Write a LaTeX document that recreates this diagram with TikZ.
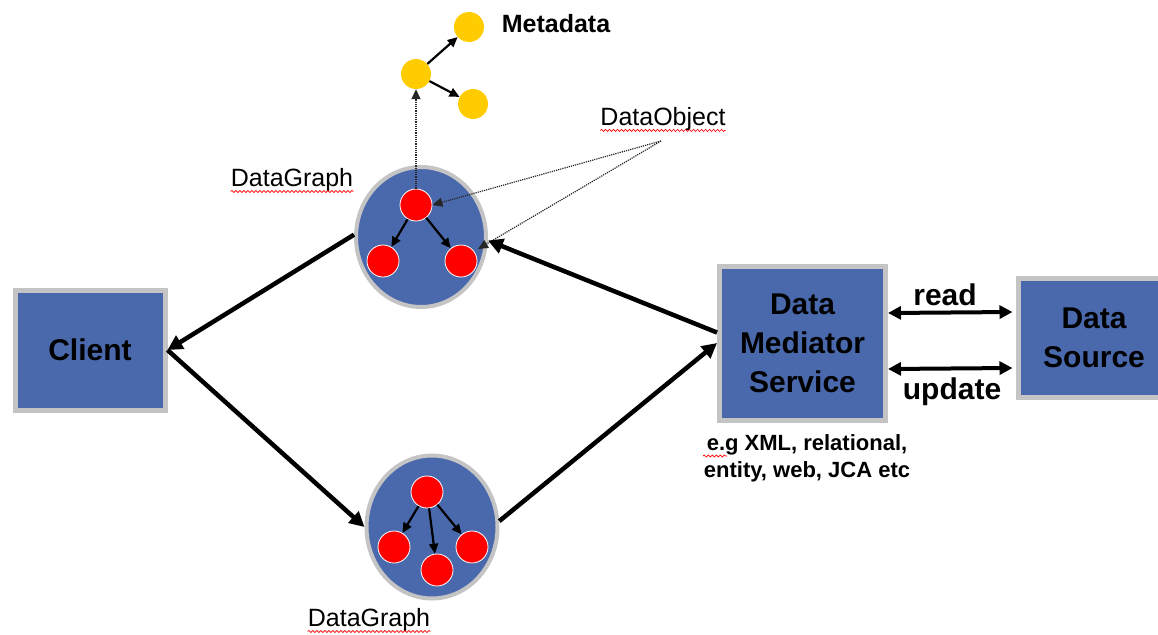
\documentclass[tikz,border=0pt]{standalone}
\usepackage{fontspec}
\setmainfont{Liberation Sans}
\usetikzlibrary{shapes.geometric,arrows.meta,decorations.pathmorphing,calc}
\definecolor{boxblue}{HTML}{4A69AC}
\definecolor{boxgray}{HTML}{C4C4C4}
\definecolor{dotred}{HTML}{FF0000}
\definecolor{metayel}{HTML}{FFCC00}
\begin{document}
\begin{tikzpicture}[x=1pt,y=-1pt,
 box/.style={draw=boxgray,line width=5pt,fill=boxblue,inner sep=0pt,align=center,font=\bfseries\fontsize{30}{39}\selectfont},
 dg/.style={ellipse,draw=boxgray,line width=4pt,fill=boxblue,inner sep=0pt},
 rnode/.style={circle,fill=dotred,draw=white,line width=0.8pt,minimum size=32pt,inner sep=0pt},
 ynode/.style={circle,fill=metayel,minimum size=30pt,inner sep=0pt},
 thinarrow/.style={line width=2.2pt,-{Triangle[length=10pt,width=9pt]}},
 bigarrow/.style={line width=4.5pt,-{Triangle[length=15pt,width=15pt]}},
 dblarrow/.style={line width=4pt,{Triangle[length=13pt,width=13pt]}-{Triangle[length=13pt,width=13pt]}},
 dotarrow/.style={densely dotted,line width=1.2pt,draw=black!85,-{Triangle[length=10pt,width=9pt]}},
 lbl/.style={inner sep=0pt,font=\fontsize{25}{30}\selectfont},
 boldlbl/.style={inner sep=0pt,font=\bfseries\fontsize{30}{36}\selectfont},
 squig/.style={draw=red,line width=0.7pt,decorate,decoration={snake,amplitude=1pt,segment length=4pt}}]
\useasboundingbox (0,0) rectangle (1158,634);

% boxes
\node[box,minimum width=150pt,minimum height=120pt] (client) at (90,350) {Client};
\node[box,minimum width=166pt,minimum height=154pt] (dms) at (802.5,343) {Data\\Mediator\\Service};
\node[box,minimum width=152pt,minimum height=119pt] (ds) at (1094,338) {Data\\Source};

% data graphs
\node[dg,minimum width=130pt,minimum height=140pt] (dg1) at (421,237) {};
\node[dg,minimum width=131pt,minimum height=143pt] (dg2) at (432,527) {};

% data objects
\node[rnode] (a1) at (416,205) {};
\node[rnode] (a2) at (383,261) {};
\node[rnode] (a3) at (461,261) {};
\node[rnode] (b1) at (427,492) {};
\node[rnode] (b2) at (394,547) {};
\node[rnode] (b3) at (437,570) {};
\node[rnode] (b4) at (472,547) {};
\draw[thinarrow] (a1) -- (a2);
\draw[thinarrow] (a1) -- (a3);
\draw[thinarrow] (b1) -- (b2);
\draw[thinarrow] (b1) -- (b3);
\draw[thinarrow] (b1) -- (b4);

% metadata
\node[ynode] (m1) at (416,74) {};
\node[ynode] (m2) at (469,27) {};
\node[ynode] (m3) at (473,104) {};
\draw[thinarrow] (m1) -- (m2);
\draw[thinarrow] (m1) -- (m3);
\node[inner sep=0pt,font=\bfseries\fontsize{25}{28}\selectfont] (meta) at (556,24) {Metadata};
\draw[dotarrow] (a1.north) -- (m1.south);

% labels
\node[lbl] (dobj) at (663,119) {DataObject};
\coordinate (dobjpt) at (661,141);
\coordinate (a3pt) at (478,249);
\draw[dotarrow] (dobjpt) -- (a1.east);
\draw[dotarrow] (dobjpt) -- (a3pt);
\node[lbl] (dglab1) at (292,180) {DataGraph};
\node[lbl] (dglab2) at (369,620) {DataGraph};
\draw[squig] ($(dobj.base west)+(0,5)$) -- ($(dobj.base east)+(0,5)$);
\draw[squig] ($(dglab1.base west)+(0,5)$) -- ($(dglab1.base east)+(0,5)$);
\draw[squig] ($(dglab2.base west)+(0,5)$) -- ($(dglab2.base east)+(0,5)$);

% main flow
\draw[bigarrow] (dg1.178) -- (client.east);
\draw[bigarrow] (client.east) -- (dg2.west);
\draw[bigarrow] (dg2.5) -- (dms.west);
\draw[bigarrow] (dms.173) -- (dg1.-3);

% read / update
\draw[dblarrow] ($(dms.east)+(0,-30)$) -- ($(ds.west)+(-3,-26)$);
\draw[dblarrow] ($(dms.east)+(0,26)$) -- ($(ds.west)+(-3,30)$);
\node[boldlbl] (rd) at (945,295) {read};
\node[boldlbl] (up) at (952,392) {update};

% note
\node[inner sep=0pt,align=center,font=\bfseries\fontsize{22}{27}\selectfont] (eg) at (807,458) {e.g XML, relational,\\entity, web, JCA etc};
\draw[squig] (703,456) -- (727,456);
\end{tikzpicture}
\end{document}
